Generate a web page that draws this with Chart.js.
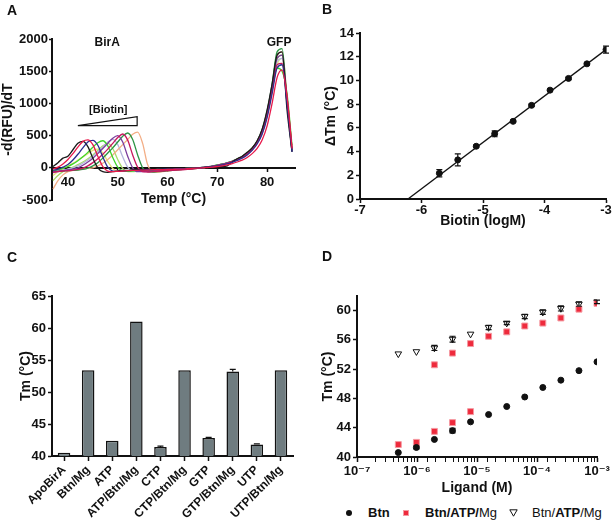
<!DOCTYPE html>
<html>
<head>
<meta charset="utf-8">
<script src="https://cdn.jsdelivr.net/npm/chart.js@4.4.0/dist/chart.umd.min.js"></script>
<style>
  body { margin: 0; background: #fff; }
  #wrap { position: relative; width: 614px; height: 521px; overflow: hidden;
          font-family: "Liberation Sans", Arial, "DejaVu Sans", sans-serif; color: #111; }
  canvas { position: absolute; }
  .letter { position: absolute; font-weight: bold; font-size: 14px; line-height: 14px; }
  .leg { position: absolute; font-size: 13px; line-height: 16px; top: 505px; white-space: nowrap; }
</style>
</head>
<body>
<div id="wrap">
  <canvas id="chartA" width="300" height="260" style="left:0;top:0"></canvas>
  <canvas id="chartB" width="314" height="260" style="left:300px;top:0"></canvas>
  <canvas id="chartC" width="300" height="261" style="left:0;top:260px"></canvas>
  <canvas id="chartD" width="314" height="240" style="left:300px;top:260px"></canvas>

  <div class="letter" style="left:7px;top:3px">A</div>
  <div class="letter" style="left:322px;top:2px">B</div>
  <div class="letter" style="left:7px;top:250px">C</div>
  <div class="letter" style="left:322px;top:249px">D</div>

  <!-- legend for D -->
  <div style="position:absolute;left:346px;top:510px;width:6px;height:6px;border-radius:50%;background:#111"></div>
  <div class="leg" style="left:368px"><b>Btn</b></div>
  <div style="position:absolute;left:403px;top:510px;width:6px;height:6px;box-sizing:border-box;background:#ee2a3c;border:1px solid #f59aa2"></div>
  <div class="leg" style="left:425px"><b>Btn/ATP/</b>Mg</div>
  <svg style="position:absolute;left:509px;top:509px" width="9" height="8"><polygon points="0.8,0.8 8.2,0.8 4.5,7.2" fill="#fff" stroke="#111" stroke-width="1"/></svg>
  <div class="leg" style="left:532px">Btn/<b>ATP</b>/Mg</div>
</div>

<script>
  // ---------- Panel A: melt curves ----------
  const tempsA = [37, 38, 39, 40, 41, 42, 43, 44, 45, 46, 47, 48, 49, 50, 51, 52, 53, 54, 55, 56,
    57, 58, 59, 60, 61, 62, 63, 64, 65, 66, 67, 68, 69, 70, 71, 72, 73, 74, 75, 76,
    77, 78, 79, 80, 81, 82, 83, 84, 85];
  const tickTempsA = [40, 50, 60, 70, 80];

  const meltBlack = [20, 80, 150, 180, 280, 380, 410, 330, 150, 0, -60, -70, -60, -50, -40, -40, -30, -30, -30, -20,
    -20, -20, -15, -15, -10, -10, -10, -5, -5,
    0, 5, 10, 15, 20, 20, 30, 90, 140, 180, 240, 310, 420, 600, 900, 1300, 1750, 1800, 900, 250];
  const meltRed = [-20, 10, 60, 130, 220, 320, 410, 435, 360, 180, 20, -50, -60, -55, -50, -45, -40, -40, -35, -35,
    -30, -30, -30, -25, -25, -20, -20, -15, -10,
    -5, 0, 5, 10, 20, 30, 45, 65, 90, 120, 160, 220, 300, 430, 650, 1000, 1400, 1520, 1100, 300];
  const meltNavy = [-40, -20, 10, 50, 120, 210, 310, 400, 425, 350, 170, 10, -50, -55, -50, -45, -40, -40, -35, -30,
    -30, -25, -25, -20, -20, -15, -15, -10, -10,
    -5, 0, 10, 20, 30, 45, 60, 85, 115, 150, 200, 270, 370, 520, 780, 1150, 1550, 1600, 1000, 250];
  const meltYellow = [-120, -60, -10, 30, 70, 120, 170, 220, 270, 290, 230, 100, -10, -50, -50, -45, -40, -40, -35, -30,
    -30, -25, -25, -20, -20, -15, -15, -10, -10,
    -5, 0, 10, 20, 35, 50, 70, 95, 130, 170, 220, 290, 390, 540, 800, 1180, 1600, 1700, 1050, 280];
  const meltLime = [-50, -30, -10, 20, 60, 110, 170, 240, 320, 390, 420, 340, 160, 10, -50, -55, -50, -45, -40, -40,
    -35, -30, -30, -25, -20, -20, -15, -10, -10,
    -5, 0, 10, 25, 40, 55, 75, 100, 135, 175, 230, 300, 400, 560, 830, 1220, 1550, 1500, 1150, 350];
  const meltLightGreen = [-200, -120, -60, -20, 10, 50, 90, 140, 200, 270, 340, 380, 300, 130, -10, -60, -60, -55, -50, -45,
    -40, -35, -30, -30, -25, -20, -15, -15, -10,
    -5, 5, 15, 30, 45, 60, 80, 105, 140, 180, 235, 310, 410, 570, 840, 1240, 1680, 1750, 1000, 250];
  const meltLavender = [-80, -60, -40, -20, 0, 30, 70, 120, 180, 250, 320, 400, 440, 360, 170, 10, -50, -55, -50, -45,
    -40, -35, -30, -25, -20, -20, -15, -10, -10,
    0, 5, 15, 25, 40, 55, 75, 100, 130, 170, 225, 295, 400, 560, 830, 1220, 1650, 1700, 1050, 300];
  const meltPurple = [-60, -50, -40, -30, -20, 0, 40, 90, 150, 220, 300, 380, 460, 500, 400, 180, 0, -60, -60, -55,
    -50, -45, -40, -35, -30, -25, -20, -15, -10,
    -5, 5, 15, 25, 40, 55, 75, 100, 135, 175, 230, 300, 410, 580, 860, 1270, 1700, 1750, 1000, 250];
  const meltCrimson = [-70, -60, -50, -45, -35, -25, -5, 30, 80, 140, 210, 290, 380, 470, 525, 430, 200, 10, -60, -65,
    -60, -55, -50, -45, -40, -35, -30, -25, -20,
    -10, 0, 10, 20, 35, 50, 70, 95, 125, 165, 215, 285, 390, 550, 820, 1200, 1600, 1620, 1100, 300];
  const meltDarkGreen = [-60, -55, -50, -45, -40, -35, -25, -5, 30, 80, 150, 230, 310, 400, 490, 540, 440, 200, 0, -60,
    -65, -60, -55, -45, -40, -30, -25, -20, -15,
    -10, 0, 10, 25, 40, 55, 75, 100, 130, 170, 225, 300, 410, 590, 880, 1300, 1800, 1850, 1050, 280];
  const meltOrange = [-330, -200, -110, -60, -40, -30, -20, -10, 0, 30, 70, 130, 200, 280, 360, 440, 520, 555, 380, 50,
    -60, -70, -60, -50, -40, -30, -25, -20, -15,
    -10, 0, 10, 20, 35, 50, 70, 95, 125, 165, 215, 285, 390, 560, 840, 1250, 1750, 1800, 1100, 300];

  // ---------- Panel B: delta Tm vs biotin ----------
  const biotinLogM = [-5.71, -5.41, -5.11, -4.81, -4.51, -4.21, -3.91, -3.61, -3.31, -3.0];
  const deltaTm = [2.17, 3.3, 4.45, 5.5, 6.55, 7.9, 9.18, 10.17, 11.4, 12.6];
  const deltaTmErr = [0.3, 0.5, 0.1, 0.25, 0.1, 0.1, 0.1, 0.1, 0.1, 0.3];
  const fitLogM = [-6.22, -3.0];
  const fitDeltaTm = [0, 12.6];

  // ---------- Panel C: Tm per condition ----------
  const conditions = ['ApoBirA', 'Btn/Mg', 'ATP', 'ATP/Btn/Mg', 'CTP', 'CTP/Btn/Mg', 'GTP', 'GTP/Btn/Mg', 'UTP', 'UTP/Btn/Mg'];
  const conditionTm = [40.5, 53.4, 42.4, 61.0, 41.4, 53.4, 42.8, 53.2, 41.8, 53.4];
  const conditionTmErr = [0, 0, 0, 0, 0.15, 0, 0.1, 0.35, 0.1, 0];

  // ---------- Panel D: Tm vs ligand ----------
  const ligandM = [4.88e-7, 9.77e-7, 1.95e-6, 3.91e-6, 7.81e-6, 1.56e-5, 3.13e-5, 6.25e-5, 1.25e-4, 2.5e-4, 5e-4, 1e-3];
  const btnTm = [40.6, 41.3, 42.4, 43.6, 44.8, 45.8, 46.9, 48.2, 49.5, 50.5, 51.8, 53.0];
  const btnTmErr = [0, 0.2, 0, 0.3, 0, 0, 0, 0, 0, 0, 0, 0];
  const atpLowM = [4.88e-7, 9.77e-7, 1.95e-6, 3.91e-6, 7.81e-6];
  const atpLowTm = [41.7, 42.0, 43.5, 44.7, 46.2];
  const atpHighM = [1.95e-6, 3.91e-6, 7.81e-6, 1.56e-5, 3.13e-5, 6.25e-5, 1.25e-4, 2.5e-4, 5e-4, 1e-3];
  const atpHighTm = [52.6, 54.2, 55.5, 56.5, 57.1, 57.9, 58.3, 59.0, 60.2, 61.0];
  const atpVaryTm = [54.1, 54.4, 54.9, 56.1, 56.8, 57.7, 58.3, 59.2, 59.8, 60.3, 60.9, 61.2];
  const atpVaryTmErr = [0, 0, 0.35, 0.4, 0, 0.3, 0.2, 0.3, 0.3, 0.35, 0.3, 0.25];

  const INK = '#111';
  const FONT = '"Liberation Sans", Arial, "DejaVu Sans", sans-serif';
  Chart.defaults.font.family = FONT;
  Chart.defaults.color = INK;
  Chart.defaults.animation = false;

  const pts = (xs, ys) => xs.map((x, i) => ({ x: x, y: ys[i] }));

  function axis(o) {
    const base = {
      grid: { drawOnChartArea: false, drawTicks: true, tickLength: 4, tickWidth: 1.5, tickColor: INK },
      border: { display: true, color: INK, width: 2 },
      ticks: { color: INK, font: { size: 13, weight: 'bold' }, padding: 2, callback: v => String(v) },
      title: { display: true, color: INK, font: { size: 14, weight: 'bold' }, padding: 0 }
    };
    return Object.assign({}, base, o, {
      grid: Object.assign({}, base.grid, o.grid),
      border: Object.assign({}, base.border, o.border),
      ticks: Object.assign({}, base.ticks, o.ticks),
      title: Object.assign({}, base.title, o.title)
    });
  }

  const errorBars = {
    id: 'errorBars',
    afterDatasetsDraw(chart) {
      const ctx = chart.ctx;
      chart.data.datasets.forEach((ds, i) => {
        if (!ds.errors) return;
        const meta = chart.getDatasetMeta(i);
        const yScale = chart.scales[meta.yAxisID];
        ctx.save();
        ctx.strokeStyle = INK;
        ctx.lineWidth = 1.2;
        meta.data.forEach((el, j) => {
          const err = ds.errors[j];
          if (!err) return;
          const raw = ds.data[j];
          const v = typeof raw === 'number' ? raw : raw.y;
          const top = yScale.getPixelForValue(v + err);
          const bot = ds.errorUpOnly ? el.y : yScale.getPixelForValue(v - err);
          ctx.beginPath();
          ctx.moveTo(el.x, top); ctx.lineTo(el.x, bot);
          ctx.moveTo(el.x - 3, top); ctx.lineTo(el.x + 3, top);
          if (!ds.errorUpOnly) { ctx.moveTo(el.x - 3, bot); ctx.lineTo(el.x + 3, bot); }
          ctx.stroke();
        });
        ctx.restore();
      });
    }
  };

  // ---------- A ----------
  const meltLabels = {
    id: 'meltLabels',
    afterDatasetsDraw(chart) {
      const { ctx, scales: { x, y } } = chart;
      ctx.save();
      ctx.fillStyle = INK;
      ctx.textAlign = 'center';
      ctx.textBaseline = 'middle';
      ctx.font = 'bold 12px ' + FONT;
      ctx.fillText('BirA', x.getPixelForValue(47.9), y.getPixelForValue(1940));
      ctx.fillText('GFP', x.getPixelForValue(82.4), y.getPixelForValue(1940));
      ctx.font = 'bold 11px ' + FONT;
      ctx.fillText('[Biotin]', x.getPixelForValue(48.1), y.getPixelForValue(900));
      ctx.beginPath();
      ctx.moveTo(x.getPixelForValue(42), y.getPixelForValue(656));
      ctx.lineTo(x.getPixelForValue(53.9), y.getPixelForValue(795));
      ctx.lineTo(x.getPixelForValue(53.9), y.getPixelForValue(656));
      ctx.closePath();
      ctx.lineWidth = 1.2;
      ctx.strokeStyle = INK;
      ctx.stroke();
      ctx.restore();
    }
  };

  const meltSeries = [
    [meltRed, '#e8194b'], [meltNavy, '#2b2f8f'], [meltBlack, '#1a1a1a'], [meltCrimson, '#c8185e'],
    [meltPurple, '#7b3c9c'], [meltDarkGreen, '#2c9444'], [meltLime, '#3fd62a'], [meltOrange, '#f3ae86'],
    [meltLavender, '#b4b6dc'], [meltLightGreen, '#a6dc6a'], [meltYellow, '#e6e27a']
  ];

  new Chart(document.getElementById('chartA'), {
    type: 'line',
    data: {
      datasets: meltSeries.map(([vals, col]) => ({
        data: pts(tempsA, vals), borderColor: col, borderWidth: 1.3, pointRadius: 0,
        cubicInterpolationMode: 'monotone', fill: false
      }))
    },
    options: {
      responsive: false,
      layout: { padding: { left: 0, right: 5, top: 39, bottom: 60 } },
      plugins: { legend: { display: false }, tooltip: { enabled: false } },
      scales: {
        x: axis({
          type: 'linear', min: 36.8, max: 85.6, position: { y: 0 }, z: 1,
          afterBuildTicks: s => { s.ticks = tickTempsA.map(v => ({ value: v })); },
          afterFit: s => { s.height = 40; },
          grid: { tickLength: 3 }, ticks: { padding: 4 },
          title: { text: 'Temp (°C)' }
        }),
        y: axis({
          min: -500, max: 2000,
          afterFit: s => { s.width = 52; },
          grid: { tickLength: 3 }, ticks: { stepSize: 500, padding: 1 },
          title: { text: '-d(RFU)/dT' }
        })
      }
    },
    plugins: [meltLabels]
  });

  // ---------- B ----------
  new Chart(document.getElementById('chartB'), {
    type: 'scatter',
    data: {
      datasets: [
        { data: pts(biotinLogM, deltaTm), errors: deltaTmErr, backgroundColor: INK, borderColor: INK, pointRadius: 3 },
        { data: pts(fitLogM, fitDeltaTm), showLine: true, borderColor: INK, borderWidth: 1.3, pointRadius: 0 }
      ]
    },
    options: {
      responsive: false,
      layout: { padding: { left: 20, right: 8, top: 33, bottom: 30 } },
      plugins: { legend: { display: false }, tooltip: { enabled: false } },
      scales: {
        x: axis({
          type: 'linear', min: -7, max: -3,
          afterFit: s => { s.height = 31; },
          ticks: { stepSize: 1, padding: 0 },
          title: { text: 'Biotin (logM)' }
        }),
        y: axis({
          min: 0, max: 14,
          afterFit: s => { s.width = 40; },
          ticks: { stepSize: 2 },
          title: { text: 'ΔTm (°C)', padding: { top: 3, bottom: 0 } }
        })
      }
    },
    plugins: [errorBars]
  });

  // ---------- C ----------
  new Chart(document.getElementById('chartC'), {
    type: 'bar',
    data: {
      labels: conditions,
      datasets: [{
        data: conditionTm, errors: conditionTmErr, errorUpOnly: true,
        backgroundColor: '#6f7c80', borderColor: INK, borderWidth: 1.5, borderSkipped: false,
        barPercentage: 0.52, categoryPercentage: 1
      }]
    },
    options: {
      responsive: false,
      layout: { padding: { left: 18, right: 7, top: 36, bottom: 0 } },
      plugins: { legend: { display: false }, tooltip: { enabled: false } },
      scales: {
        x: axis({
          afterFit: s => { s.height = 65; },
          grid: { offset: false, tickLength: 5 },
          ticks: { autoSkip: false, maxRotation: 45, minRotation: 45, font: { size: 12, weight: 'bold' },
                   callback: function (v, i) { return conditions[i]; } },
          title: { display: false }
        }),
        y: axis({
          min: 40, max: 65,
          afterFit: s => { s.width = 34; },
          ticks: { stepSize: 5 },
          title: { text: 'Tm (°C)' }
        })
      }
    },
    plugins: [errorBars]
  });

  // ---------- D ----------
  const SUP = { '-': '⁻', '0': '⁰', '1': '¹', '2': '²', '3': '³', '4': '⁴', '5': '⁵', '6': '⁶', '7': '⁷', '8': '⁸', '9': '⁹' };
  const isDecade = v => Math.abs(Math.log10(v) - Math.round(Math.log10(v))) < 1e-6;

  const redSquare = { pointStyle: 'rect', pointRadius: 4.2, backgroundColor: '#ee2a3c', borderColor: '#f59aa2', borderWidth: 1 };

  new Chart(document.getElementById('chartD'), {
    type: 'scatter',
    data: {
      datasets: [
        { data: pts(ligandM, btnTm), errors: btnTmErr, pointRadius: 3, backgroundColor: INK, borderColor: INK },
        Object.assign({ data: pts(atpLowM, atpLowTm) }, redSquare),
        Object.assign({ data: pts(atpHighM, atpHighTm) }, redSquare),
        { data: pts(ligandM, atpVaryTm), errors: atpVaryTmErr, pointStyle: 'triangle', rotation: 180,
          pointRadius: 3.8, backgroundColor: '#fff', borderColor: INK, borderWidth: 1 }
      ]
    },
    options: {
      responsive: false,
      layout: { padding: { left: 20, right: 17, top: 36, bottom: 3 } },
      plugins: { legend: { display: false }, tooltip: { enabled: false } },
      scales: {
        x: axis({
          type: 'logarithmic', min: 1e-7, max: 1e-3,
          afterFit: s => { s.height = 40; },
          grid: { tickLength: 5, tickWidth: c => (c.tick && isDecade(c.tick.value) ? 1.5 : 1) },
          ticks: {
            autoSkip: false, maxRotation: 0,
            callback: v => isDecade(v) ? '10' + String(Math.round(Math.log10(v))).split('').map(ch => SUP[ch]).join('') : ''
          },
          title: { text: 'Ligand (M)' }
        }),
        y: axis({
          min: 40, max: 62,
          afterBuildTicks: s => { s.ticks = [40, 44, 48, 52, 56, 60].map(v => ({ value: v })); },
          afterFit: s => { s.width = 37; },
          title: { text: 'Tm (°C)' }
        })
      }
    },
    plugins: [errorBars]
  });
</script>
</body>
</html>
